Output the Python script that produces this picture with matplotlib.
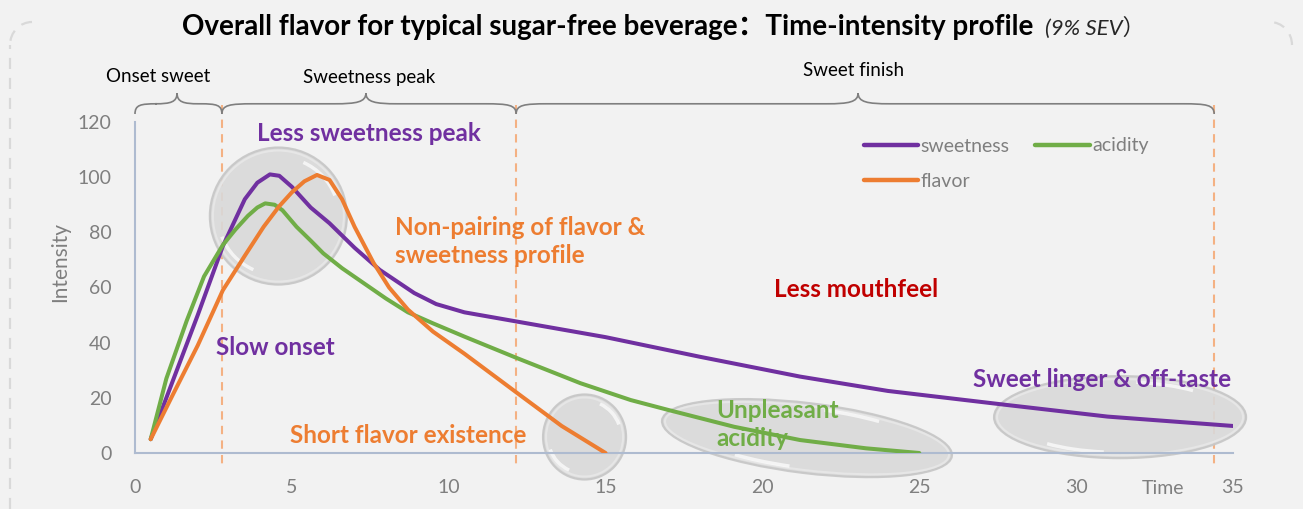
import numpy as np
import matplotlib
matplotlib.use('Agg')
import matplotlib.pyplot as plt
from matplotlib.patches import Ellipse, Arc, PathPatch
from matplotlib.path import Path
import matplotlib.transforms as mtransforms

# ---------------- data ----------------
sweet_x = [0.5, 1.3, 2.0, 2.8, 3.5, 3.9, 4.3, 4.6, 5.0, 5.6, 6.2, 7.0, 7.8, 8.9, 9.6,
           10.5, 12.2, 15.0, 18.0, 21.2, 24.0, 27.8, 31.0, 35.0]
sweet_y = [5, 29, 50, 75, 92, 98, 101, 100.5, 96.5, 89, 83.3, 74.4, 66.4, 58, 54,
           51, 47.6, 42, 34.9, 27.7, 22.5, 17.4, 13.2, 9.8]

acid_x = [0.5, 1.0, 1.65, 2.2, 2.8, 3.2, 3.6, 3.9, 4.15, 4.45, 4.7, 5.15, 5.6, 6.0, 6.6, 7.3, 8.0,
          8.7, 9.5, 10.5, 12.2, 14.2, 15.8, 17.0, 19.1, 21.2, 23.3, 25.0]
acid_y = [5, 27, 48, 64, 75.4, 81, 86, 89, 90.5, 90, 88, 82, 77, 72.4, 67, 61.5, 56,
          51, 47, 42.2, 34.3, 25.3, 19.2, 15.6, 9.5, 4.7, 1.7, 0]

flav_x = [0.5, 1.2, 2.0, 2.8, 3.5, 4.1, 4.6, 5.0, 5.4, 5.8, 6.2, 6.6, 7.0, 7.6, 8.1,
          8.7, 9.5, 10.5, 12.2, 13.6, 15.0]
flav_y = [5, 21, 39, 59, 71.5, 82, 89.5, 94.5, 98.5, 100.8, 99, 92, 82, 69, 60,
          52, 44, 36, 21.6, 9.8, 0]

series_names = ["sweetness", "acidity", "flavor"]
series_colors = ["#7030a0", "#70ad47", "#ed7d31"]

x_ticks = [0, 5, 10, 15, 20, 25, 30, 35]
y_ticks = [0, 20, 40, 60, 80, 100, 120]

phase_names = ["Onset sweet", "Sweetness peak", "Sweet finish"]
phase_bounds = [0.0, 2.77, 12.15, 34.4]
phase_tips = [1.34, 7.36, 23.05]

title_main = "Overall flavor for typical sugar-free beverage：Time-intensity profile"
title_sub = "(9% SEV）"

# ---------------- figure ----------------
W, H = 1303, 509
BG = "#f2f2f2"
FONT = ["Lato", "Noto Sans CJK SC", "DejaVu Sans"]
plt.rcParams['font.family'] = FONT

fig = plt.figure(figsize=(W / 100, H / 100), dpi=100, facecolor=BG)
ax = fig.add_axes([135 / W, 56 / H, 1098 / W, 331 / H])
ax.set_facecolor(BG)
ax.set_xlim(0, 35)
ax.set_ylim(0, 120)

for s in ["top", "right"]:
    ax.spines[s].set_visible(False)
for s in ["left", "bottom"]:
    ax.spines[s].set_color("#aebbd0")
    ax.spines[s].set_linewidth(1.5)
ax.set_xticks(x_ticks)
ax.set_yticks(y_ticks)
ax.tick_params(length=0, labelsize=14, labelcolor="#7f7f7f")
ax.tick_params(axis='x', pad=19)
ax.tick_params(axis='y', pad=17)
fig.text(60 / W, 1 - 262 / H, "Intensity", fontsize=15, color="#7f7f7f", rotation=90,
         ha='center', va='center')
ax.text(32.77, -12.8, "Time", fontsize=14, color="#7f7f7f", ha='center', va='center', clip_on=False)

# ---------------- bubbles (glossy ellipses) ----------------
def bubble(cx, cy, wpx, hpx, angle=0):
    tr = mtransforms.ScaledTranslation(cx, cy, ax.transData)
    e = Ellipse((0, 0), wpx, hpx, angle=angle, transform=tr, facecolor="#d9d9d9",
                edgecolor="#c6c6c6", lw=1.6, alpha=0.9, zorder=2, clip_on=False)
    ax.add_patch(e)
    e2 = Ellipse((0, 0), wpx - 6, hpx - 6, angle=angle, transform=tr, facecolor="none",
                 edgecolor="#e6e6e6", lw=1.5, zorder=2.05, clip_on=False)
    ax.add_patch(e2)
    for t1, t2 in [(20, 65), (200, 245)]:
        a = Arc((0, 0), wpx * 0.88, hpx * 0.86, angle=angle, theta1=t1, theta2=t2,
                transform=tr, color="white", lw=2.5, alpha=0.7, zorder=2.1, clip_on=False)
        ax.add_patch(a)

bubble(4.57, 85.9, 137, 137)
bubble(14.33, 5.8, 83, 85)
bubble(21.42, 5.4, 292, 70, angle=-7)
bubble(31.4, 13.0, 252, 82)

# ---------------- series ----------------
lines = {}
for xs, ys, name, c in zip([sweet_x, acid_x, flav_x], [sweet_y, acid_y, flav_y],
                           series_names, series_colors):
    lines[name], = ax.plot(xs, ys, color=c, lw=2.9, label=name, zorder=3,
                           solid_joinstyle='round', solid_capstyle='round')

# ---------------- phase dividers & braces ----------------
for xv in phase_bounds[1:]:
    ax.plot([xv, xv], [126.2, -5.1], color="#f4b183", lw=1.5, ls=(0, (4, 3)),
            clip_on=False, zorder=1)

def brace(x0, x1, xt, yb=122.9, ym=126.6, yt=130.5):
    r = min(1.0, (x1 - x0) / 4)
    verts = [(x0, yb),
             (x0, ym - 0.4), (x0 + r * 0.25, ym), (x0 + r, ym),
             (xt - r, ym),
             (xt - r * 0.3, ym), (xt, ym + 0.6), (xt, yt),
             (xt, ym + 0.6), (xt + r * 0.3, ym), (xt + r, ym),
             (x1 - r, ym),
             (x1 - r * 0.25, ym), (x1, ym - 0.4), (x1, yb)]
    codes = [Path.MOVETO,
             Path.CURVE4, Path.CURVE4, Path.CURVE4,
             Path.LINETO,
             Path.CURVE4, Path.CURVE4, Path.CURVE4,
             Path.CURVE4, Path.CURVE4, Path.CURVE4,
             Path.LINETO,
             Path.CURVE4, Path.CURVE4, Path.CURVE4]
    ax.add_patch(PathPatch(Path(verts, codes), facecolor='none', edgecolor="#7f7f7f",
                           lw=1.2, clip_on=False))

label_pos = [(0.73, 136.6), (7.46, 136.0), (22.9, 138.8)]
for i, name in enumerate(phase_names):
    x0, x1 = phase_bounds[i], phase_bounds[i + 1]
    brace(x0, x1, phase_tips[i])
    ax.text(label_pos[i][0], label_pos[i][1], name, fontsize=13.5,
            color="black", ha='center', va='center', clip_on=False)

# ---------------- annotations ----------------
ann = dict(fontweight='bold', fontsize=17.5, clip_on=False, zorder=4)
ax.text(7.46, 116, "Less sweetness peak", color="#7030a0", ha='center', va='center', **ann)
ax.text(8.29, 76.7, "Non-pairing of flavor &\nsweetness profile", color="#ed7d31",
        ha='left', va='center', linespacing=1.3, **ann)
ax.text(23.0, 59.1, "Less mouthfeel", color="#c00000", ha='center', va='center', **ann)
ax.text(4.49, 38.1, "Slow onset", color="#7030a0", ha='center', va='center', **ann)
ax.text(8.7, 6.5, "Short flavor existence", color="#ed7d31", ha='center', va='center', **ann)
ax.text(18.52, 10.2, "Unpleasant\nacidity", color="#70ad47", ha='left', va='center',
        linespacing=1.25, **ann)
ax.text(30.83, 26.8, "Sweet linger & off-taste", color="#7030a0", ha='center', va='center', **ann)

# ---------------- legend ----------------
order = ["sweetness", "flavor", "acidity"]
leg = ax.legend([lines[n] for n in order], order, loc='upper left',
                bbox_to_anchor=(846 / W, 1 - 120 / H),
                bbox_transform=fig.transFigure, ncol=2, frameon=False, fontsize=14,
                handlelength=2.8, handletextpad=0.15, columnspacing=1.3, labelspacing=0.95)
for t in leg.get_texts():
    t.set_color("#7f7f7f")
for l in leg.get_lines():
    l.set_linewidth(3.2)

# ---------------- title ----------------
t_main = fig.text(182 / W, 1 - 27 / H, title_main, fontsize=20, fontweight='bold',
                  ha='left', va='center', color='black')
fig.canvas.draw()
bb = t_main.get_window_extent()
fig.text((bb.x1 + 12) / W, 1 - 28 / H, title_sub, fontsize=16, style='italic',
         ha='left', va='center', color='#262626')

# ---------------- dashed frame pieces ----------------
frame_c = "#d9d9d9"
fig.add_artist(plt.Line2D([10 / W, 10 / W], [0, 1 - 45 / H], color=frame_c, lw=1.6,
                          ls=(0, (5, 4)), transform=fig.transFigure))
fig.add_artist(Arc((32 / W, 1 - 45 / H), 44 / W, 46 / H, theta1=90, theta2=180,
                   color=frame_c, lw=1.6, ls=(0, (5, 4)), transform=fig.transFigure))
fig.add_artist(Arc((1270 / W, 1 - 45 / H), 44 / W, 46 / H, theta1=0, theta2=90,
                   color=frame_c, lw=1.6, ls=(0, (5, 4)), transform=fig.transFigure))

fig.savefig("out.png", dpi=100, facecolor=BG)
